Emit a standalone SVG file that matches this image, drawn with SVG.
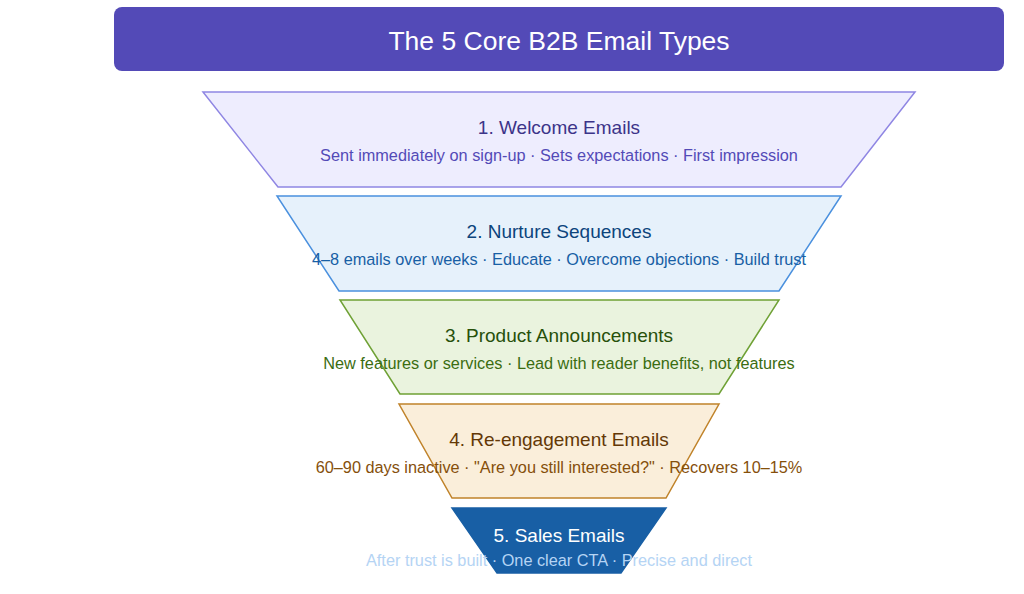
<svg xmlns="http://www.w3.org/2000/svg" width="1024" height="594" viewBox="0 0 1024 594">
<style>
text{font-family:"Liberation Sans",Arial,sans-serif;text-anchor:middle}
.t{font-size:19px}
.s{font-size:16.3px}
.tier{stroke-width:1.5}
</style>
<rect width="1024" height="594" fill="#ffffff"/>
<g id="header">
<rect x="114" y="7" width="890" height="64" rx="8" fill="#534AB7"/>
<text x="559" y="50" font-size="26.5" fill="#ffffff">The 5 Core B2B Email Types</text>
</g>
<g id="tier1">
<polygon class="tier" points="203,92 915,92 841,187 278,187" fill="#EEEDFE" stroke="#8F86E3"/>
<text class="t" x="559" y="134" fill="#3C3489">1. Welcome Emails</text>
<text class="s" x="559" y="161" fill="#534AB7">Sent immediately on sign-up · Sets expectations · First impression</text>
</g>
<g id="tier2">
<polygon class="tier" points="277,196 841,196 779,291 339,291" fill="#E6F1FB" stroke="#4A90DE"/>
<text class="t" x="559" y="238" fill="#0C447C">2. Nurture Sequences</text>
<text class="s" x="559" y="265" fill="#185FA5">4–8 emails over weeks · Educate · Overcome objections · Build trust</text>
</g>
<g id="tier3">
<polygon class="tier" points="340,300 779,300 719,394 400,394" fill="#EAF3DE" stroke="#6FA135"/>
<text class="t" x="559" y="342" fill="#27500A">3. Product Announcements</text>
<text class="s" x="559" y="369" fill="#3B6D11">New features or services · Lead with reader benefits, not features</text>
</g>
<g id="tier4">
<polygon class="tier" points="399,404 719,404 666,498 452,498" fill="#FAEEDA" stroke="#C0832A"/>
<text class="t" x="559" y="446" fill="#633806">4. Re-engagement Emails</text>
<text class="s" x="559" y="473" fill="#854F0B">60–90 days inactive · "Are you still interested?" · Recovers 10–15%</text>
</g>
<g id="tier5">
<polygon class="tier" points="452,508 666,508 621,573 497,573" fill="#185FA5" stroke="#185FA5"/>
<text class="t" x="559" y="542" fill="#ffffff">5. Sales Emails</text>
<text class="s" x="559" y="566" fill="#B5D4F4">After trust is built · One clear CTA · Precise and direct</text>
</g>
</svg>
